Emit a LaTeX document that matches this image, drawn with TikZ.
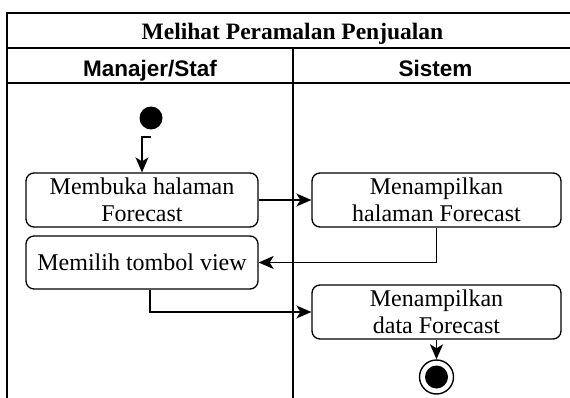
\documentclass[tikz,border=0pt]{standalone}
\usepackage{fontspec}
\setmainfont{Liberation Serif}
\newfontfamily\headfont{Liberation Sans}
\usetikzlibrary{arrows.meta}

\tikzset{
  frame/.style={line width=1.4pt},
  action/.style={draw, line width=1.3pt, rounded corners=8pt, align=center,
    inner sep=0pt, font=\fontsize{24}{27}\selectfont},
  flow/.style={line width=1.4pt, -{Stealth[length=15pt,width=13pt,inset=4pt]}},
  lanehead/.style={anchor=base, font=\headfont\bfseries\fontsize{22.5}{26}\selectfont},
}

\begin{document}
\begin{tikzpicture}[x=1pt, y=-1pt]
  \useasboundingbox (0,0) rectangle (570,398);
  \clip (0,0) rectangle (570,398);

  % swimlane frame (runs past the right and bottom edges)
  \draw[frame] (7,420) -- (7,13) -- (600,13);
  \draw[frame] (7,48) -- (600,48);
  \draw[frame] (7,83) -- (600,83);
  \draw[frame] (293,48) -- (293,420);

  \node[anchor=base, font=\bfseries\fontsize{23.5}{27}\selectfont] (title) at (292.5,40) {Melihat Peramalan Penjualan};
  \node[lanehead] (laneA) at (150,77) {Manajer/Staf};
  \node[lanehead] (laneB) at (435.5,77) {Sistem};

  % start and end states
  \node[circle, fill=black, minimum size=23pt, inner sep=0pt] (start) at (151,118) {};
  \node[circle, draw, line width=1.4pt, minimum size=34pt, inner sep=0pt] (end) at (436.5,377) {};
  \fill (end.center) circle (11.5pt);

  % actions
  \node[action, minimum width=232pt, minimum height=54pt] (open) at (142,200) {Membuka halaman\\Forecast};
  \node[action, minimum width=232pt, minimum height=53pt] (pick) at (142,262.5) {Memilih tombol view};
  \node[action, minimum width=249pt, minimum height=54pt] (showpage) at (436.5,200) {Menampilkan\\halaman Forecast};
  \node[action, minimum width=249pt, minimum height=54pt] (showdata) at (436.5,312) {Menampilkan\\data Forecast};

  % control flow
  \draw[flow] (start.south) ++(0,7.5) -| (open.north);
  \draw[flow] (open.east) -- (showpage.west);
  \draw[flow] (showpage.south) |- (pick.east);
  \draw[flow] ([xshift=8pt]pick.south) |- (showdata.west);
  \draw[flow] (showdata.south) -- (end.north);
\end{tikzpicture}
\end{document}
